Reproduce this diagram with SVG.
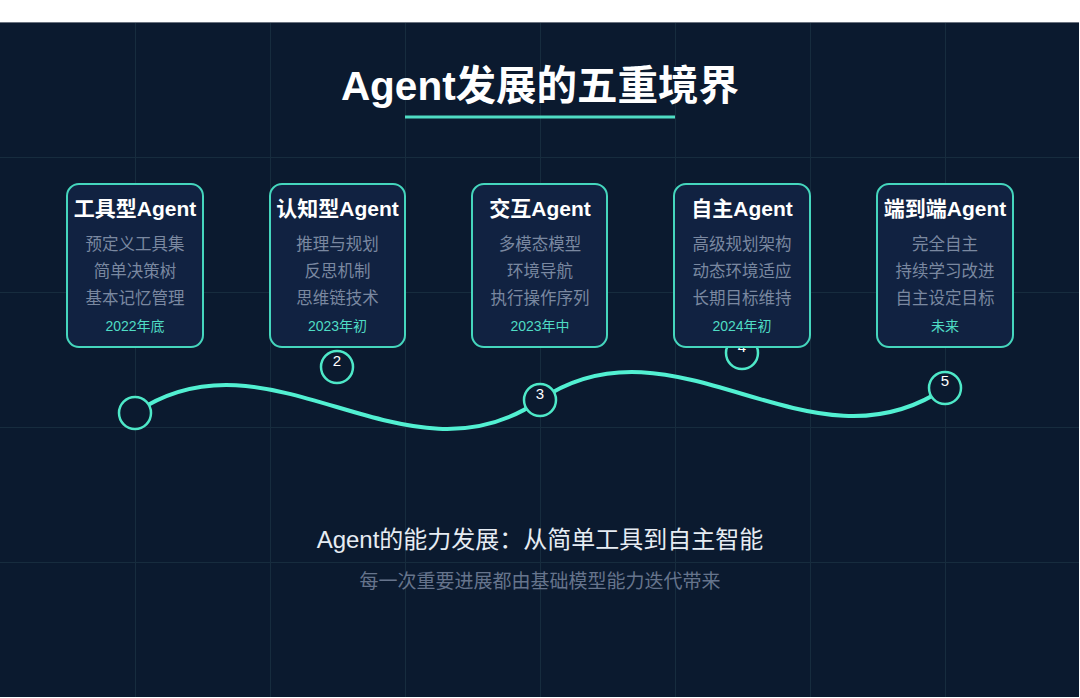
<svg xmlns="http://www.w3.org/2000/svg" width="1080" height="698" viewBox="0 0 1080 698">
  <defs>
    <style>
      .grid { stroke: #172c3e; stroke-width: 1; }
      .card { fill: #112241; stroke: #45d6bd; stroke-width: 2; }
      .ttl { font-family: "Liberation Sans", "Noto Sans CJK SC", sans-serif; font-size: 21px; font-weight: bold; fill: #ffffff; text-anchor: middle; }
      .item { font-family: "Liberation Sans", "Noto Sans CJK SC", sans-serif; font-size: 16.5px; fill: #7a88a0; text-anchor: middle; }
      .date { font-family: "Liberation Sans", "Noto Sans CJK SC", sans-serif; font-size: 14px; fill: #4fdcc4; text-anchor: middle; }
      .dot { fill: #0b1a2f; stroke: #4ee8c8; stroke-width: 2.5; }
      .num { font-family: "Liberation Sans", "Noto Sans CJK SC", sans-serif; font-size: 15px; fill: #ffffff; text-anchor: middle; }
    </style>
  </defs>
  <rect x="0" y="0" width="1080" height="698" fill="#ffffff"/>
  <rect x="0" y="22" width="1079" height="675" fill="#0b1a2f"/>
  <line x1="0" y1="22.5" x2="1079" y2="22.5" stroke="#6b7380" stroke-width="1"/>
  <g id="grid">
    <line class="grid" x1="135.5" y1="23" x2="135.5" y2="697"/>
    <line class="grid" x1="270.5" y1="23" x2="270.5" y2="697"/>
    <line class="grid" x1="405.5" y1="23" x2="405.5" y2="697"/>
    <line class="grid" x1="540.5" y1="23" x2="540.5" y2="697"/>
    <line class="grid" x1="675.5" y1="23" x2="675.5" y2="697"/>
    <line class="grid" x1="810.5" y1="23" x2="810.5" y2="697"/>
    <line class="grid" x1="945.5" y1="23" x2="945.5" y2="697"/>
    <line class="grid" x1="0" y1="157.5" x2="1079" y2="157.5"/>
    <line class="grid" x1="0" y1="292.5" x2="1079" y2="292.5"/>
    <line class="grid" x1="0" y1="427.5" x2="1079" y2="427.5"/>
    <line class="grid" x1="0" y1="562.5" x2="1079" y2="562.5"/>
  </g>
  <g id="title">
    <text x="540" y="100" font-family="Liberation Sans, Noto Sans CJK SC, sans-serif" font-size="40.5" font-weight="bold" fill="#ffffff" text-anchor="middle">Agent发展的五重境界</text>
    <line x1="405" y1="117" x2="675" y2="117" stroke="#4fdcc4" stroke-width="3"/>
  </g>
  <g id="connectors">
    <path d="M135,413 C270,321 405,494 540,400 C675,308 810,480 945,388" fill="none" stroke="#52f0d2" stroke-width="4"/>
  </g>
  <g id="markers">
    <g id="marker1"><circle class="dot" cx="135" cy="413" r="16"/></g>
    <g id="marker2"><circle class="dot" cx="337" cy="367" r="16"/><text class="num" x="337" y="366">2</text></g>
    <g id="marker3"><circle class="dot" cx="540" cy="400" r="16"/><text class="num" x="540" y="399">3</text></g>
    <g id="marker4"><circle class="dot" cx="742" cy="353" r="16"/><text class="num" x="742" y="352">4</text></g>
    <g id="marker5"><circle class="dot" cx="945" cy="388" r="16"/><text class="num" x="945" y="386">5</text></g>
  </g>
  <g id="card1">
    <rect class="card" x="67" y="184" width="136" height="163" rx="12"/>
    <text class="ttl" x="135" y="216">工具型Agent</text>
    <text class="item" x="135" y="250">预定义工具集</text>
    <text class="item" x="135" y="277">简单决策树</text>
    <text class="item" x="135" y="304">基本记忆管理</text>
    <text class="date" x="135" y="331">2022年底</text>
  </g>
  <g id="card2">
    <rect class="card" x="270" y="184" width="135" height="163" rx="12"/>
    <text class="ttl" x="337.5" y="216">认知型Agent</text>
    <text class="item" x="337.5" y="250">推理与规划</text>
    <text class="item" x="337.5" y="277">反思机制</text>
    <text class="item" x="337.5" y="304">思维链技术</text>
    <text class="date" x="337.5" y="331">2023年初</text>
  </g>
  <g id="card3">
    <rect class="card" x="472" y="184" width="135" height="163" rx="12"/>
    <text class="ttl" x="540" y="216">交互Agent</text>
    <text class="item" x="540" y="250">多模态模型</text>
    <text class="item" x="540" y="277">环境导航</text>
    <text class="item" x="540" y="304">执行操作序列</text>
    <text class="date" x="540" y="331">2023年中</text>
  </g>
  <g id="card4">
    <rect class="card" x="674" y="184" width="136" height="163" rx="12"/>
    <text class="ttl" x="742" y="216">自主Agent</text>
    <text class="item" x="742" y="250">高级规划架构</text>
    <text class="item" x="742" y="277">动态环境适应</text>
    <text class="item" x="742" y="304">长期目标维持</text>
    <text class="date" x="742" y="331">2024年初</text>
  </g>
  <g id="card5">
    <rect class="card" x="877" y="184" width="136" height="163" rx="12"/>
    <text class="ttl" x="945" y="216">端到端Agent</text>
    <text class="item" x="945" y="250">完全自主</text>
    <text class="item" x="945" y="277">持续学习改进</text>
    <text class="item" x="945" y="304">自主设定目标</text>
    <text class="date" x="945" y="331">未来</text>
  </g>
  <g id="footer">
    <text x="540" y="548" font-family="Liberation Sans, Noto Sans CJK SC, sans-serif" font-size="24" fill="#e6ecf3" text-anchor="middle">Agent的能力发展：从简单工具到自主智能</text>
    <text x="540" y="588" font-family="Liberation Sans, Noto Sans CJK SC, sans-serif" font-size="19" fill="#66748c" text-anchor="middle">每一次重要进展都由基础模型能力迭代带来</text>
  </g>
</svg>
